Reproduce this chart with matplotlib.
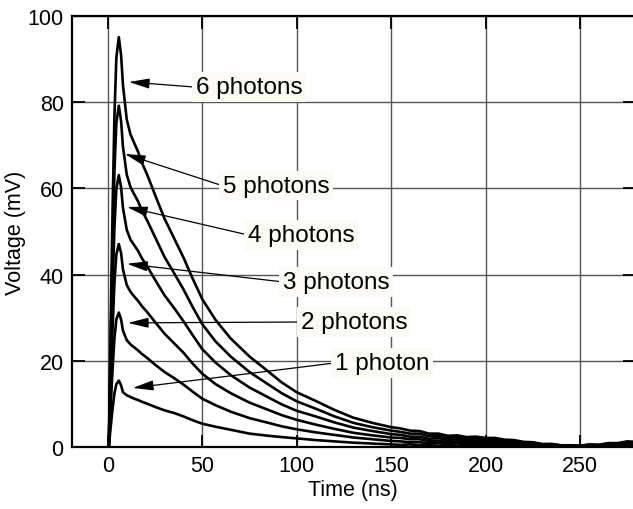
import matplotlib
matplotlib.use("Agg")
import matplotlib.pyplot as plt

plt.rcParams['font.family'] = ['Liberation Sans', 'DejaVu Sans']

# --- data (time in ns, voltage in mV) ---
t_ns = [0.5, 1.5, 2.5, 3.5, 4.5, 5.8, 7, 8, 10, 12, 14, 16, 18, 21, 25,
        30, 35, 40, 45, 50, 57, 65, 75, 85, 92, 100, 110, 120, 130, 140, 150,
        155, 160, 165, 170, 175, 180, 185, 190, 195, 200, 205, 210, 215, 220,
        225, 230, 235, 240, 245, 250, 255, 260, 265, 270, 275, 280]

v_1ph = [0, 4.6, 8.9, 12.5, 14.6, 15.4, 14.3, 12.7, 12.0, 11.6, 11.2, 10.9, 10.5, 10.0, 9.3,
         8.5, 7.9, 7.1, 6.2, 5.4, 4.7, 4.0, 3.1, 2.6, 2.3, 2.0, 1.6, 1.3, 1.0, 0.8, 0.6,
         0.5, 0.6, 0.4, 0.5, 0.3, 0.4, 0.25, 0.35, 0.2, 0.3, 0.15, 0.25, 0.15, 0.2, 0.1,
         0.2, 0.1, 0.15, 0.05, 0.1, 0.1, 0.2, 0.2, 0.25, 0.3, 0.35]

v_2ph = [0, 9.4, 18.1, 25.3, 29.6, 31.2, 29.6, 27.0, 24.8, 23.8, 23.1, 22.4, 21.6, 20.6, 19.1,
         17.4, 16.0, 14.5, 12.8, 11.2, 9.7, 8.2, 6.7, 5.6, 4.8, 4.1, 3.4, 2.8, 2.2, 1.8, 1.4,
         1.3, 1.1, 1.1, 0.9, 0.95, 0.7, 0.85, 0.6, 0.75, 0.5, 0.65, 0.45, 0.5, 0.3, 0.4,
         0.2, 0.3, 0.1, 0.2, 0.1, 0.25, 0.2, 0.35, 0.3, 0.5, 0.45]

v_3ph = [0, 14.1, 27.3, 38.2, 44.7, 47.1, 45.0, 41.2, 37.6, 36.0, 34.9, 33.9, 32.7, 31.2, 29.0,
         26.3, 24.1, 21.9, 19.3, 17.0, 14.6, 12.5, 10.3, 8.6, 7.4, 6.3, 5.2, 4.2, 3.3, 2.7, 2.2,
         2.1, 1.8, 1.8, 1.4, 1.5, 1.1, 1.3, 1.0, 1.2, 0.85, 1.0, 0.7, 0.8, 0.5, 0.6,
         0.3, 0.4, 0.15, 0.3, 0.1, 0.35, 0.25, 0.5, 0.45, 0.7, 0.65]

v_4ph = [0, 18.9, 36.6, 51.1, 59.9, 63.1, 60.3, 55.5, 50.4, 48.1, 46.8, 45.5, 43.8, 41.8, 38.8,
         35.2, 32.3, 29.2, 25.9, 22.7, 19.6, 16.7, 13.8, 11.5, 9.9, 8.4, 7.1, 5.7, 4.5, 3.7, 3.0,
         2.8, 2.4, 2.4, 1.9, 2.1, 1.6, 1.8, 1.4, 1.6, 1.2, 1.4, 1.0, 1.1, 0.7, 0.8,
         0.4, 0.5, 0.2, 0.35, 0.15, 0.45, 0.35, 0.65, 0.6, 0.9, 0.85]

v_5ph = [0, 23.8, 45.9, 64.2, 75.2, 79.2, 75.7, 69.7, 63.2, 60.3, 58.6, 57.0, 54.9, 52.4, 48.7,
         44.1, 40.4, 36.6, 32.4, 28.5, 24.5, 21.0, 17.4, 14.5, 12.5, 10.6, 8.9, 7.1, 5.6, 4.6, 3.8,
         3.5, 3.1, 3.1, 2.5, 2.6, 2.1, 2.3, 1.8, 2.0, 1.7, 1.8, 1.3, 1.4, 1.0, 1.0,
         0.6, 0.65, 0.35, 0.4, 0.2, 0.5, 0.45, 0.8, 0.75, 1.1, 1.0]

v_6ph = [0, 28.5, 55.2, 77.0, 90.3, 95.1, 91.0, 84.0, 76.0, 72.5, 70.5, 68.5, 66.0, 63.0, 58.5,
         53.0, 48.5, 44.0, 39.0, 34.3, 29.5, 25.2, 21.0, 17.5, 15.0, 12.7, 10.7, 8.6, 6.8, 5.6, 4.6,
         4.3, 3.8, 3.7, 3.1, 3.1, 2.6, 2.7, 2.3, 2.4, 2.1, 2.1, 1.7, 1.6, 1.2, 1.1,
         0.7, 0.7, 0.4, 0.4, 0.3, 0.6, 0.5, 0.9, 0.9, 1.3, 1.2]

curves = [v_1ph, v_2ph, v_3ph, v_4ph, v_5ph, v_6ph]

labels = ["1 photon", "2 photons", "3 photons", "4 photons", "5 photons", "6 photons"]
label_xy = [(120.2, 19.5), (102.2, 29.0), (92.7, 38.3), (74.2, 49.2), (60.9, 60.6), (46.6, 83.5)]
arrow_tip = [(13.2, 13.7), (10.6, 28.8), (10.1, 42.5), (10.1, 55.7), (9.0, 68.0), (11.1, 84.7)]

fig = plt.figure(figsize=(6.33, 5.10), dpi=100)
ax = fig.add_axes([0.1137, 0.1216, 0.889, 0.845])

for v in curves:
    ax.plot(t_ns, v, color='black', lw=1.9, solid_joinstyle='round', zorder=3)

for lab, xy, tip in zip(labels, label_xy, arrow_tip):
    ax.annotate(lab, xy=tip, xytext=xy, ha='left', va='center', fontsize=17.5,
                bbox=dict(boxstyle='square,pad=0.15', fc='#fbfbf3', ec='none'),
                arrowprops=dict(arrowstyle='-|>,head_length=0.9,head_width=0.22',
                                color='black', lw=0.9, relpos=(0, 0.5),
                                shrinkA=0, shrinkB=0, mutation_scale=14),
                zorder=5)

ax.set_xlim(-19, 279)
ax.set_ylim(0, 100)
ax.set_xticks([0, 50, 100, 150, 200, 250])
ax.set_yticks([0, 20, 40, 60, 80, 100])
ax.grid(True, color='#555555', lw=1.0)
ax.set_axisbelow(True)
ax.tick_params(direction='in', length=9, width=1.3, top=True, right=True,
               labelsize=15.5, pad=6)
for s in ax.spines.values():
    s.set_linewidth(1.6)

ax.set_xlabel("Time (ns)", fontsize=15.5, labelpad=2)
ax.set_ylabel("Voltage (mV)", fontsize=15.5)
ax.yaxis.set_label_coords(-0.082, 0.5)

fig.savefig("out.png", dpi=100)
